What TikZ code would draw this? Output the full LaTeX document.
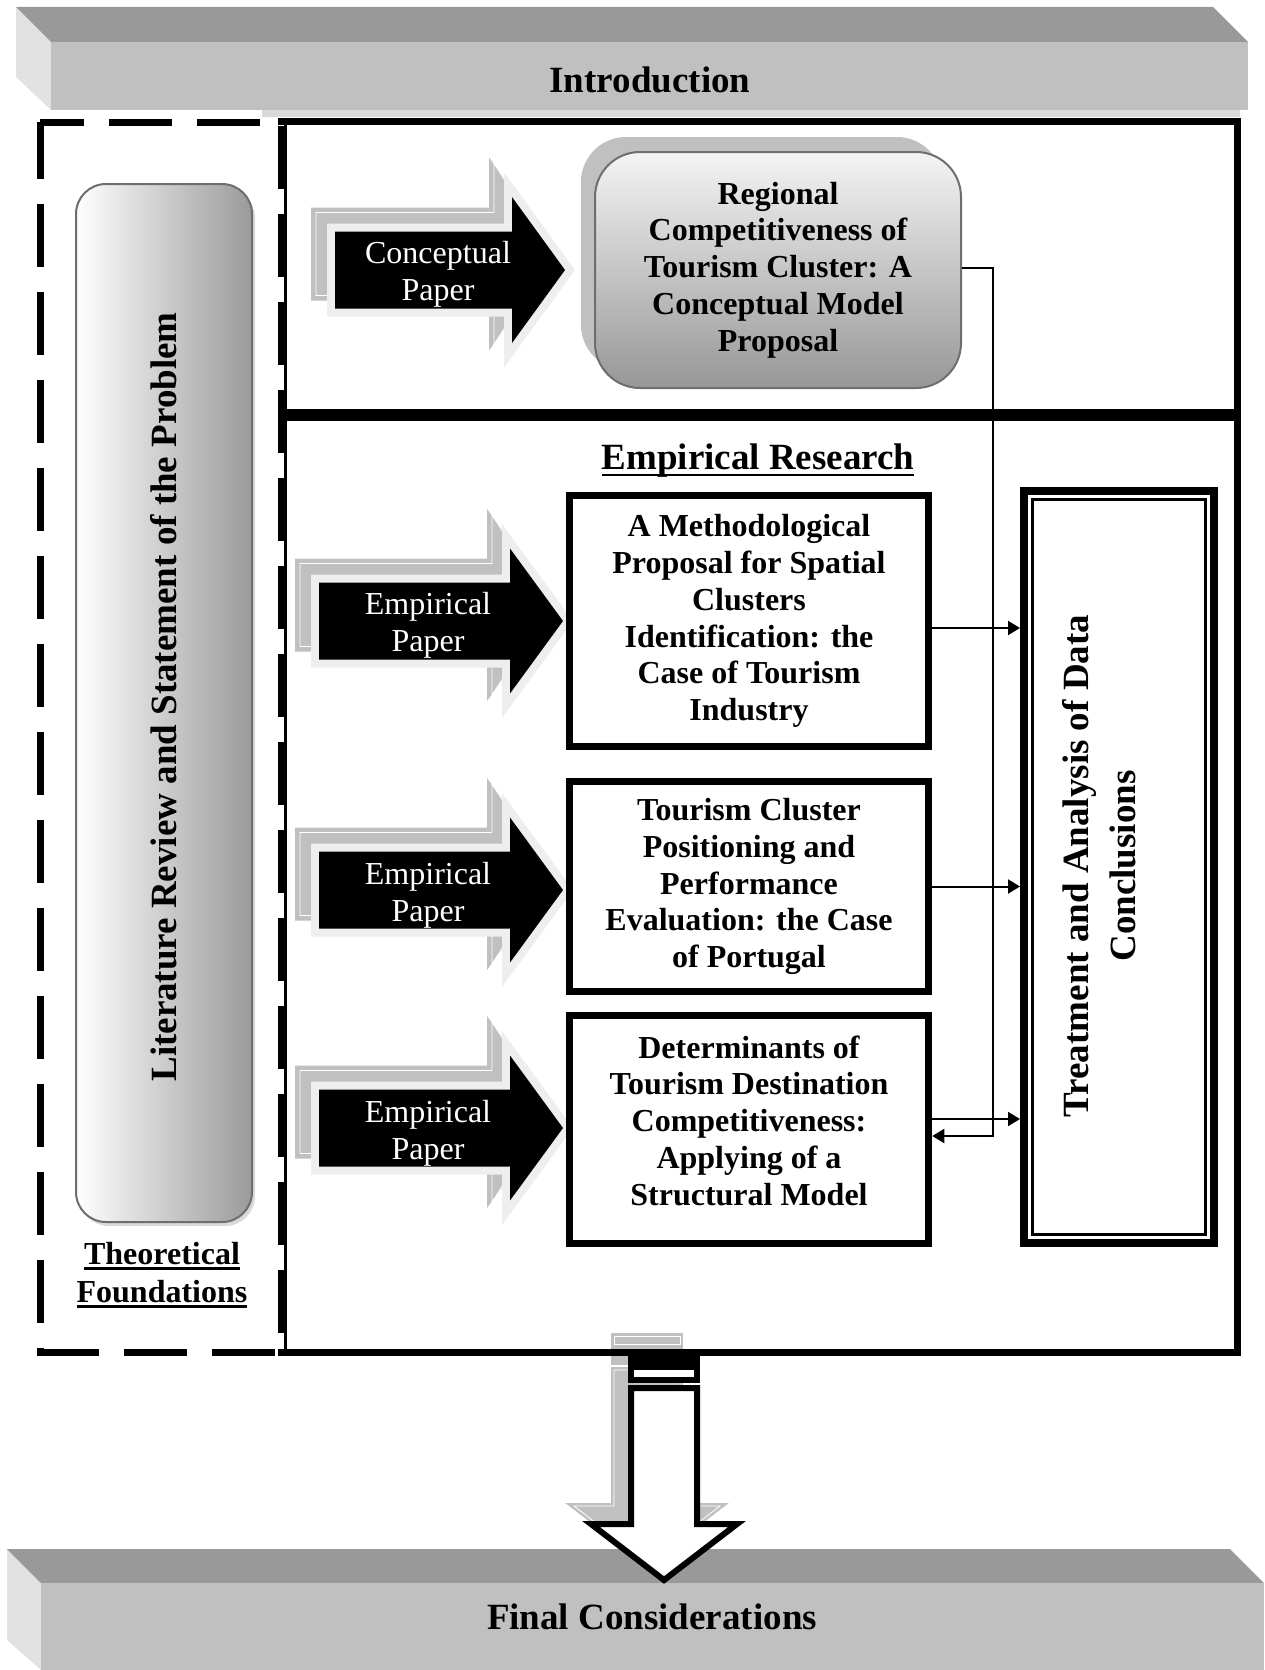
\documentclass[tikz,border=0pt]{standalone}
\usepackage{fontspec}
\setmainfont{Liberation Serif}
\usetikzlibrary{arrows.meta}
\definecolor{topface}{HTML}{999999}
\definecolor{frontface}{HTML}{C0C0C0}
\definecolor{sideface}{HTML}{E2E2E2}
\definecolor{shadowgray}{HTML}{C0C0C0}
\definecolor{outlinegray}{HTML}{EEEEEE}
\definecolor{edgegray}{HTML}{6E6E6E}
\definecolor{pillright}{HTML}{9A9A9A}
\definecolor{boxtop}{HTML}{F4F4F4}
\definecolor{boxbottom}{HTML}{979797}

\newcommand\ulx[2][-5pt]{\setbox0=\hbox{#2}\rlap{\rule[#1]{\wd0}{2.5pt}}\box0}
\newcommand\arrowpath[6]{(#1,{#4-#5}) -- (#2,{#4-#5}) -- (#2,{#4-#6}) -- (#3,#4) -- (#2,{#4+#6}) -- (#2,{#4+#5}) -- (#1,{#4+#5}) -- cycle}
\newcommand\bigarrow[6]{%
  \pgfmathsetmacro\bxL{#1-24}%
  \pgfmathsetmacro\bxB{#2-23}%
  \pgfmathsetmacro\bxC{#4-16}%
  \pgfmathsetmacro\bxbh{#5+8}%
  \pgfmathsetmacro\bxhh{#6+23.5}%
  \pgfmathsetmacro\bxT{\bxB+\bxhh*(#3-#2)/#6}%
  \pgfmathsetmacro\bwL{\bxL+5}%
  \pgfmathsetmacro\bwB{\bxB+5}%
  \pgfmathsetmacro\bwT{\bxT-7}%
  \pgfmathsetmacro\bwbh{\bxbh-5}%
  \pgfmathsetmacro\bwhh{\bxhh-6}%
  \fill[shadowgray] \arrowpath{\bxL}{\bxB}{\bxT}{\bxC}{\bxbh}{\bxhh};
  \draw[white, line width=0.8pt] \arrowpath{\bwL}{\bwB}{\bwT}{\bxC}{\bwbh}{\bwhh};
  \draw[outlinegray, line width=16pt, line join=miter] \arrowpath{#1}{#2}{#3}{#4}{#5}{#6};
  \fill[black] \arrowpath{#1}{#2}{#3}{#4}{#5}{#6};
}

\tikzset{
  bartext/.style={font=\fontsize{37}{40}\selectfont\bfseries},
  paperbox/.style={draw, line width=7pt, minimum width=359.5pt, inner sep=0pt, align=center, font=\fontsize{32}{36.8}\selectfont\bfseries},
  arrowlabel/.style={text=white, align=center, font=\fontsize{32}{37}\selectfont},
  conn/.style={line width=2pt, -{Triangle[length=12pt,width=14pt]}},
}

\begin{document}
\begin{tikzpicture}[x=1pt, y=-1pt]
\fill[white] (0,0) rectangle (1264,1670);
\useasboundingbox (0,0) rectangle (1264,1670);

% top bar
\fill[sideface] (16,7) -- (51,42) -- (51,110) -- (16,77) -- cycle;
\fill[topface] (16,7) -- (1213,7) -- (1248,42) -- (51,42) -- cycle;
\fill[frontface] (51,42) rectangle (1248,110);
\fill[gray!30] (262,110) rectangle (1240,117);
\node[bartext] (intro) at (650,80) {Introduction};

% bottom bar
\fill[sideface] (7,1549) -- (41,1583) -- (41,1670) -- (7,1640) -- cycle;
\fill[topface] (7,1549) -- (1230,1549) -- (1264,1583) -- (41,1583) -- cycle;
\fill[frontface] (41,1583) rectangle (1264,1670);
\node[bartext] (final) at (652,1617) {Final Considerations};

% down arrow shadow
\begin{scope}[shift={(-17,-18)}]
  \filldraw[shadowgray, line width=6pt] (631,1354) rectangle (697,1362);
  \filldraw[shadowgray, line width=6pt] (631,1367) rectangle (697,1380);
  \filldraw[shadowgray, line width=6pt, line join=miter] (631,1388) -- (697,1388) -- (697,1524) -- (737,1524) -- (664,1580) -- (591,1524) -- (631,1524) -- cycle;
  \draw[white, line width=0.8pt] (631,1354) rectangle (697,1362);
  \draw[white, line width=0.8pt] (631,1388) -- (697,1388) -- (697,1524) -- (737,1524) -- (664,1580) -- (591,1524) -- (631,1524) -- cycle;
\end{scope}

% frames
\draw[line width=7pt, dash pattern=on 63pt off 25pt, dash phase=19pt] (40,122) -- (281,122) -- (281,1352) -- (40,1352) -- cycle;
\draw[line width=3pt] (285,120) -- (285,1352);
\draw[line width=7pt] (278,121) -- (1240.5,121);
\draw[line width=7pt] (1237,117.5) -- (1237,1355.5);
\draw[line width=7pt] (278,1352) -- (1240.5,1352);
\draw[line width=12pt] (285,415) -- (1237,415);

% pill
\fill[gray!30, rounded corners=30pt] (79,188) rectangle (255,1226);
\node[draw=edgegray, line width=2pt, rounded corners=30pt, left color=white, right color=pillright,
      minimum width=176pt, minimum height=1038pt, inner sep=0pt] (pill) at (164,703) {};
\node[rotate=90, font=\fontsize{37}{40}\selectfont\bfseries] (littext) at (164,697) {Literature Review and Statement of the Problem};
\node[align=center, font=\fontsize{32}{38}\selectfont\bfseries] (theo) at (162,1275) {\ulx{Theoretical}\\\ulx{Foundations}};

% conceptual model box
\fill[shadowgray, rounded corners=45pt] (581,137) rectangle (942,370);
\node[draw=edgegray, line width=2pt, rounded corners=45pt, top color=boxtop, bottom color=boxbottom,
      minimum width=366pt, minimum height=236pt, inner sep=0pt, align=center,
      font=\fontsize{32}{36.8}\selectfont\bfseries] (reg) at (778,270)
      {Regional\\Competitiveness of\\Tourism Cluster: A\\Conceptual Model\\Proposal};

% block arrows
\bigarrow{335}{512}{565}{270}{38.5}{73}
\bigarrow{319}{510}{563}{621}{38.5}{72.5}
\bigarrow{319}{510}{563}{890}{38.5}{72.5}
\bigarrow{319}{510}{563}{1128}{38.5}{72.5}
\node[arrowlabel] (cpl) at (438,274) {Conceptual\\Paper};
\node[arrowlabel] (ep1) at (428,625) {Empirical\\Paper};
\node[arrowlabel] (ep2) at (428,895) {Empirical\\Paper};
\node[arrowlabel] (ep3) at (428,1133) {Empirical\\Paper};

% empirical research
\node[bartext] (emp) at (758,461) {\ulx[-6.5pt]{Empirical Research}};
\node[paperbox, minimum height=251pt] (box1) at (749,621)
  {A Methodological\\Proposal for Spatial\\Clusters\\Identification: the\\Case of Tourism\\Industry};
\node[paperbox, minimum height=210pt] (box2) at (749,886.5)
  {Tourism Cluster\\Positioning and\\Performance\\Evaluation: the Case\\of Portugal};
\node[paperbox, minimum height=228pt] (box3) at (749,1129.5)
  {Determinants of\\Tourism Destination\\Competitiveness:\\Applying of a\\Structural Model\rule[-18pt]{0pt}{18pt}};

% treatment box
\node[draw, line width=8pt, minimum width=190pt, minimum height=752pt, inner sep=0pt] (treat) at (1119,867) {};
\draw[line width=2.5pt] ([shift={(12.5,12.5)}]treat.north west) rectangle ([shift={(-12.5,-12.5)}]treat.south east);
\node[rotate=90, align=center, font=\fontsize{37}{47}\selectfont\bfseries] (treattext) at (1099,866)
  {Treatment and Analysis of Data\\Conclusions};

% connectors
\coordinate (rt) at (993,268);
\draw[conn] (reg.east |- rt) -- (rt) |- ([yshift=-6.5pt]box3.east);
\draw[conn] ([yshift=-7pt]box1.east) -- ([yshift=-7pt]box1.east -| treat.west);
\draw[conn] (box2.east) -- (box2.east -| treat.west);
\draw[conn] ([yshift=10.5pt]box3.east) -- ([yshift=10.5pt]box3.east -| treat.west);

% down arrow
\filldraw[black, line width=6pt] (631,1354) rectangle (697,1362);
\draw[line width=6pt, fill=white] (631,1367) rectangle (697,1380);
\draw[line width=6pt, fill=white, line join=miter] (631,1388) -- (697,1388) -- (697,1524) -- (737,1524) -- (664,1580) -- (591,1524) -- (631,1524) -- cycle;
\end{tikzpicture}
\end{document}
